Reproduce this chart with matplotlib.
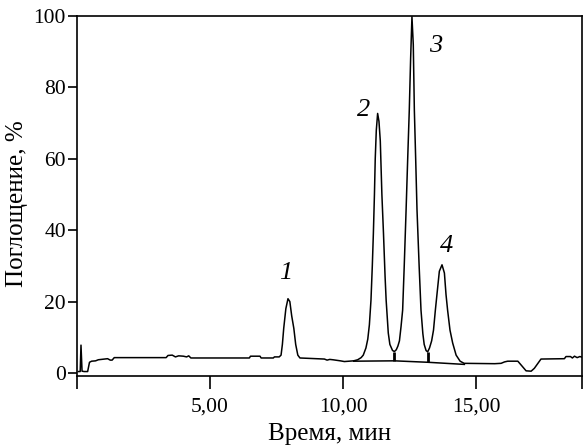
import matplotlib
matplotlib.use("Agg")
import matplotlib.pyplot as plt

plt.rcParams['font.family'] = ['Liberation Serif', 'DejaVu Serif']

# chromatogram trace (time in min, absorbance in %)
t = [0.05, 0.12, 0.15, 0.19, 0.27, 0.40, 0.47, 0.55, 0.70, 0.80, 1.15, 1.25, 1.32, 1.40,
     3.35, 3.42, 3.58, 3.70, 3.82, 4.00, 4.12, 4.20, 4.28, 6.48, 6.52, 6.88, 6.92, 7.38,
     7.42, 7.60, 7.67, 7.72, 7.77, 7.85, 7.93, 8.00, 8.07, 8.15, 8.22, 8.30, 8.38,
     9.30, 9.40, 9.50, 9.62, 9.90, 10.05, 10.40, 10.55, 10.68, 10.76, 10.86, 10.93, 10.99,
     11.05, 11.10, 11.14, 11.18, 11.21, 11.25, 11.30, 11.35, 11.40, 11.46, 11.52, 11.58,
     11.62, 11.70, 11.76, 11.86, 11.93, 12.00, 12.06, 12.12, 12.18, 12.24, 12.30, 12.37,
     12.43, 12.49, 12.54, 12.59, 12.64, 12.68, 12.73, 12.78, 12.86, 12.93, 13.00, 13.05,
     13.12, 13.18, 13.25, 13.33, 13.40, 13.47, 13.53, 13.62, 13.72, 13.81, 13.87, 13.93,
     14.02, 14.12, 14.25, 14.40, 14.55, 15.70, 15.94, 16.07, 16.19, 16.57, 16.72, 16.88,
     17.07, 17.19, 17.44, 18.32, 18.38, 18.55, 18.62, 18.70, 18.80, 18.90, 19.00]
absorb = [0.4, 0.4, 7.8, 0.5, 0.4, 0.4, 3.0, 3.3, 3.4, 3.7, 4.0, 3.6, 3.6, 4.3,
          4.3, 4.9, 5.0, 4.5, 4.8, 4.7, 4.5, 4.8, 4.2, 4.2, 4.7, 4.7, 4.2, 4.2,
          4.5, 4.5, 5.0, 8.0, 12.5, 18.0, 20.8, 20.0, 16.0, 12.5, 8.0, 5.0, 4.2,
          3.9, 3.6, 3.8, 3.7, 3.4, 3.2, 3.4, 3.7, 4.3, 5.0, 7.0, 9.5, 13.5,
          20.4, 30.0, 39.1, 50.0, 60.0, 68.0, 72.7, 70.5, 65.0, 50.0, 39.1, 27.0,
          20.4, 11.2, 8.0, 6.3, 6.0, 6.5, 7.5, 9.0, 13.0, 17.6, 30.0, 45.7,
          60.0, 73.7, 88.0, 99.8, 92.0, 73.7, 60.0, 45.7, 30.0, 17.6, 11.0, 8.0,
          6.3, 5.9, 7.0, 9.0, 12.0, 17.6, 22.0, 28.5, 30.3, 28.0, 22.0, 17.6,
          12.0, 8.4, 5.0, 3.3, 2.7, 2.6, 2.7, 3.1, 3.3, 3.3, 2.0, 0.6,
          0.5, 1.3, 3.9, 4.0, 4.6, 4.6, 4.2, 4.7, 4.3, 4.6, 4.4]

# integration baseline under peaks 2-4 and the drop lines
base_t = [10.40, 11.93, 13.18, 14.56]
base_y = [3.3, 3.4, 3.0, 2.4]
drop_t = [11.93, 13.18]
drop_top = [6.0, 5.9]
drop_bot = [3.4, 3.0]

# peak numbers
peak_names = ['1', '2', '3', '4']
peak_tx = [7.85, 10.77, 13.5, 13.9]
peak_ty = [28.0, 73.8, 91.5, 35.5]

xticks = [0, 5, 10, 15, 19]
xticklabels = ['', '5,00', '10,00', '15,00', '']
yticks = [0, 20, 40, 60, 80, 100]

fig = plt.figure(figsize=(5.86, 4.48), dpi=100)
ax = fig.add_axes([0.1314, 0.1607, 0.8626, 0.8036])

ax.plot(t, absorb, color='black', lw=1.1)
ax.plot(base_t, base_y, color='black', lw=1.1)
ax.vlines(drop_t, drop_bot, drop_top, color='black', lw=2.0)

for name, px, py in zip(peak_names, peak_tx, peak_ty):
    ax.text(px, py, name, fontsize=19, style='italic', ha='center', va='center')

ax.set_xlim(0, 19)
ax.set_ylim(-0.85, 100)
ax.set_xticks(xticks)
ax.set_xticklabels(xticklabels)
ax.set_yticks(yticks)
ax.tick_params(axis='x', direction='out', length=9.5, width=1.2, labelsize=15.5, pad=6)
ax.tick_params(axis='y', direction='out', length=6.5, width=1.2, labelsize=15.5, pad=1.5)
for s in ax.spines.values():
    s.set_linewidth(1.2)

ax.set_xlabel('Время, мин', fontsize=18, labelpad=5)
ax.set_ylabel('Поглощение, %', fontsize=18)
ax.yaxis.set_label_coords(-0.096, 0.48)

fig.savefig('out.png', dpi=100)
